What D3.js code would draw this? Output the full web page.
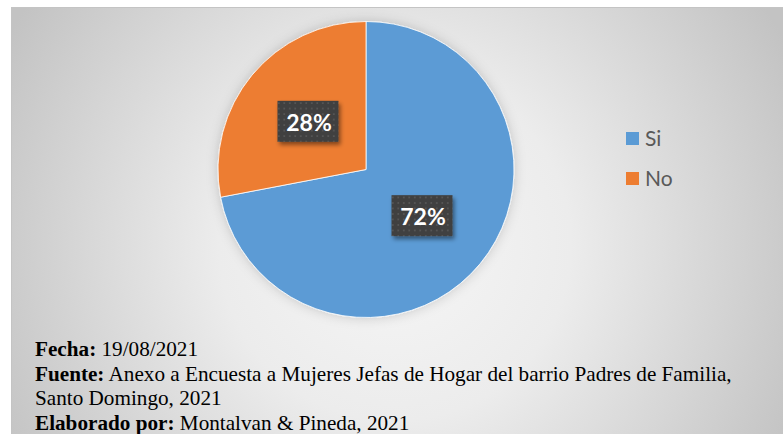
<!DOCTYPE html>
<html>
<head>
<meta charset="utf-8">
<script src="https://cdn.jsdelivr.net/npm/d3@7/dist/d3.min.js"></script>
<style>
  html, body { margin: 0; padding: 0; background: #ffffff; }
  svg { display: block; }
</style>
</head>
<body>
<div id="chart"></div>
<script>
// chart data
const categories = ['Si', 'No'];
const values = [72, 28];
const sliceColors = ['#5B9BD5', '#ED7D31'];

// footnote lines: bold label + normal text
const noteLabels = ['Fecha:', 'Fuente:', '', 'Elaborado por:'];
const noteTexts = [
  ' 19/08/2021',
  ' Anexo a Encuesta a Mujeres Jefas de Hogar del barrio Padres de Familia,',
  'Santo Domingo, 2021',
  ' Montalvan & Pineda, 2021'
];

const width = 783;
const height = 434;
const cx = 366, cy = 169.5; // pie centre
const radius = 148;

const svg = d3.select('#chart').append('svg')
  .attr('width', width)
  .attr('height', height)
  .attr('viewBox', '0 0 ' + width + ' ' + height);

const defs = svg.append('defs');

// background radial gradient (excel style)
const grad = defs.append('radialGradient')
  .attr('id', 'bgGrad')
  .attr('gradientUnits', 'userSpaceOnUse')
  .attr('cx', 395).attr('cy', 245).attr('r', 440);
grad.append('stop').attr('offset', '0%').attr('stop-color', '#f6f6f6');
grad.append('stop').attr('offset', '40%').attr('stop-color', '#ececec');
grad.append('stop').attr('offset', '100%').attr('stop-color', '#c3c3c3');

// soft shadow round the pie
const pieShadow = defs.append('filter')
  .attr('id', 'pieShadow')
  .attr('x', '-20%').attr('y', '-20%').attr('width', '140%').attr('height', '140%');
pieShadow.append('feDropShadow')
  .attr('dx', 0).attr('dy', 0)
  .attr('stdDeviation', 6)
  .attr('flood-color', '#000')
  .attr('flood-opacity', 0.18);

// shadow for data labels
const labelShadow = defs.append('filter')
  .attr('id', 'labelShadow')
  .attr('x', '-30%').attr('y', '-30%').attr('width', '160%').attr('height', '160%');
labelShadow.append('feDropShadow')
  .attr('dx', 2).attr('dy', 3)
  .attr('stdDeviation', 2)
  .attr('flood-color', '#000')
  .attr('flood-opacity', 0.45);

// dotted fill of the label boxes
const dots = defs.append('pattern')
  .attr('id', 'dots')
  .attr('patternUnits', 'userSpaceOnUse')
  .attr('width', 5.5).attr('height', 5.5);
dots.append('rect').attr('width', 5.5).attr('height', 5.5).attr('fill', '#404040');
dots.append('rect').attr('x', 2).attr('y', 2).attr('width', 1.6).attr('height', 1.6).attr('fill', '#5a5a5a');

// chart area
svg.append('rect')
  .attr('x', 11.5).attr('y', 7.5)
  .attr('width', width - 11).attr('height', height - 7)
  .attr('fill', 'url(#bgGrad)')
  .attr('stroke', '#c4c4c4')
  .attr('stroke-width', 1);

const pie = d3.pie()
  .sort(null)
  .value(d => d);

const arc = d3.arc()
  .innerRadius(0)
  .outerRadius(radius);

const pieData = pie(values);

const g = svg.append('g')
  .attr('transform', 'translate(' + cx + ',' + cy + ')');

g.append('g')
  .attr('filter', 'url(#pieShadow)')
  .selectAll('path')
  .data(pieData)
  .enter()
  .append('path')
  .attr('d', arc)
  .attr('fill', (d, i) => sliceColors[i])
  .attr('stroke', '#ffffff')
  .attr('stroke-width', 0.8);

// data labels
const total = d3.sum(values);
const boxW = 61, boxH = 41;
const labels = g.selectAll('g.label')
  .data(pieData)
  .enter()
  .append('g')
  .attr('class', 'label')
  .attr('transform', d => 'translate(' + arc.centroid(d) + ')');

labels.append('rect')
  .attr('x', -boxW / 2 - 1)
  .attr('y', -boxH / 2 - 1)
  .attr('width', boxW)
  .attr('height', boxH)
  .attr('fill', 'url(#dots)')
  .attr('filter', 'url(#labelShadow)');

labels.append('text')
  .text(d => Math.round(d.value * 100 / total) + '%')
  .attr('x', 0)
  .attr('y', 8.5)
  .style('font-family', 'Lato, "Open Sans", sans-serif')
  .style('font-weight', 'bold')
  .style('font-size', '23px')
  .style('fill', '#ffffff')
  .style('text-anchor', 'middle');

// legend
const legendY = d3.scalePoint()
  .domain(categories)
  .range([132, 172]);

const legend = svg.selectAll('g.legend')
  .data(categories)
  .enter()
  .append('g')
  .attr('class', 'legend')
  .attr('transform', d => 'translate(626,' + legendY(d) + ')');

legend.append('rect')
  .attr('width', 13).attr('height', 13)
  .attr('fill', (d, i) => sliceColors[i]);

legend.append('text')
  .text(d => d)
  .attr('x', 19)
  .attr('y', 14)
  .style('font-family', 'Lato, "Open Sans", sans-serif')
  .style('font-size', '21px')
  .style('fill', '#595959');

// footnotes
const notes = svg.selectAll('text.note')
  .data(noteTexts)
  .enter()
  .append('text')
  .attr('class', 'note')
  .attr('x', 35)
  .attr('y', (d, i) => 356 + i * 24.5)
  .style('font-family', '"Liberation Serif", "Times New Roman", serif')
  .style('font-size', '21.2px')
  .style('fill', '#000000')
  .attr('xml:space', 'preserve');

notes.append('tspan')
  .style('font-weight', 'bold')
  .text((d, i) => noteLabels[i]);

notes.append('tspan')
  .text(d => d);
</script>
</body>
</html>
